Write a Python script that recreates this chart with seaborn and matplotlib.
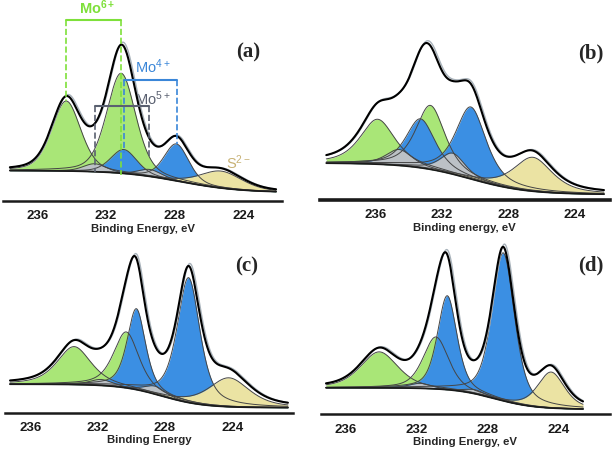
import numpy as np
import matplotlib
matplotlib.use('Agg')
import matplotlib.pyplot as plt
import seaborn as sns

# component order used in every panel
kinds = ['green', 'green', 'blue', 'blue', 'gray', 'gray', 'yellow']
ticks = [236, 232, 228, 224]

# (a)
a_centers = [234.32, 231.12, 230.97, 227.90, 232.66, 229.45, 225.30]
a_heights = [70, 100, 24, 37, 8, 7, 17]
a_fwhm = [2.0, 2.0, 1.8, 1.7, 1.6, 1.6, 2.9]
a_eta = 0.35
a_bg = [30.5, 8.5, 227.7, 3.5]      # high, low, step centre, step width
a_span = [237.6, 222.1]

# (b)
b_centers = [235.90, 232.70, 233.30, 230.25, 234.60, 231.35, 226.50]
b_heights = [45, 64, 49, 72, 16, 21, 34]
b_fwhm = [2.5, 2.1, 2.1, 2.2, 1.9, 1.8, 2.8]
b_eta = 0.65
b_bg = [37.0, 5.5, 230.3, 3.5]
b_span = [239.0, 222.2]

# (c)
c_centers = [233.40, 230.30, 229.70, 226.60, 231.80, 228.60, 224.20]
c_heights = [38, 56, 81, 125, 6, 8, 29]
c_fwhm = [2.4, 1.8, 1.3, 1.6, 1.6, 1.5, 2.9]
c_eta = 0.6
c_bg = [28.5, 5.0, 228.2, 2.5]
c_span = [237.2, 220.7]

# (d)
d_centers = [234.10, 230.90, 230.26, 227.10, 231.80, 228.70, 224.40]
d_heights = [36, 52, 94, 148, 5, 4, 36]
d_fwhm = [2.5, 1.7, 1.3, 1.5, 1.5, 1.4, 1.8]
d_eta = 0.5
d_bg = [26.5, 5.0, 227.6, 2.3]
d_span = [237.1, 222.6]

fill_colors = {'green': '#a9e677', 'blue': '#3b8fe3', 'gray': '#bcc1c6', 'yellow': '#ebe3a3'}
draw_order = ['green', 'blue', 'gray', 'yellow']

sns.set_style('white')
plt.rcParams['font.family'] = ['Liberation Sans', 'DejaVu Sans']
plt.rcParams['mathtext.default'] = 'regular'


def peak(x, c, h, w, eta):
    r = ((x - c) / w) ** 2
    return h * (eta / (1 + 4 * r) + (1 - eta) * np.exp(-4 * np.log(2) * r))


def draw_panel(ax, centers, heights, fwhm, eta, bg_par, span, xlim, ylim, xlabel, tag, tag_pos,
               spine_w=1.8):
    x = np.linspace(span[0], span[1], 800)
    hi, lo, x0, w = bg_par
    bg = lo + (hi - lo) * 0.5 * (1 + np.tanh((x - x0) / w))
    comps = [peak(x, c, h, f, eta) for c, h, f in zip(centers, heights, fwhm)]
    env = bg + np.sum(comps, axis=0)
    # measured trace, mostly hidden under the fit
    raw = bg + np.sum([peak(x + 0.08, c, h * 1.02, f, eta)
                       for c, h, f in zip(centers, heights, fwhm)], axis=0)

    for kind in draw_order:
        for comp, k in zip(comps, kinds):
            if k == kind:
                ax.fill_between(x, bg, bg + comp, color=fill_colors[kind], lw=0, zorder=2)
    for comp in comps:
        ax.plot(x, bg + comp, color='#454545', lw=0.7, zorder=3)
    sns.lineplot(x=x, y=bg, ax=ax, color='#1a1a1a', lw=1.2, zorder=3)
    sns.lineplot(x=x, y=raw, ax=ax, color='#a8b2ba', lw=1.0, zorder=4)
    sns.lineplot(x=x, y=env, ax=ax, color='black', lw=1.5, zorder=5)

    ax.set_xlim(xlim)
    ax.set_ylim(ylim)
    ax.set_xticks(ticks)
    ax.set_yticks([])
    for s in ['left', 'right', 'top']:
        ax.spines[s].set_visible(False)
    ax.spines['bottom'].set_linewidth(spine_w)
    ax.spines['bottom'].set_color('#1a1a1a')
    ax.tick_params(axis='x', direction='inout', length=4, width=1, pad=4,
                   labelsize=9.5, colors='#1a1a1a')
    for t in ax.get_xticklabels():
        t.set_fontweight('bold')
    ax.set_xlabel(xlabel, fontsize=8.2, fontweight='bold', labelpad=1)
    ax.text(tag_pos[0], tag_pos[1], tag, transform=ax.transAxes, fontsize=15,
            fontweight='bold', family='Liberation Serif', ha='center', va='center')
    ax.patch.set_alpha(0)


fig = plt.figure(figsize=(6.16, 4.52), dpi=100)
ax_a = fig.add_axes([0.0049, 0.553, 0.453, 0.447])
ax_b = fig.add_axes([0.519, 0.5553, 0.4708, 0.4447])
ax_c = fig.add_axes([0.0081, 0.0847, 0.4675, 0.393])
ax_d = fig.add_axes([0.5206, 0.0812, 0.469, 0.3967])

draw_panel(ax_a, a_centers, a_heights, a_fwhm, a_eta, a_bg, a_span, (238.0, 221.75), (0, 202),
           'Binding Energy, eV', '(a)', (0.878, 0.738))
draw_panel(ax_b, b_centers, b_heights, b_fwhm, b_eta, b_bg, b_span, (239.4, 221.85), (0, 201),
           'Binding energy, eV', '(b)', (0.936, 0.736), spine_w=2.6)
draw_panel(ax_c, c_centers, c_heights, c_fwhm, c_eta, c_bg, c_span, (237.5, 220.4), (0, 177.7),
           'Binding Energy', '(c)', (0.839, 0.831))
draw_panel(ax_d, d_centers, d_heights, d_fwhm, d_eta, d_bg, d_span, (237.4, 221.1), (0, 179.3),
           'Binding Energy, eV', '(d)', (0.935, 0.833))

# oxidation-state brackets on (a)
green_txt, blue_txt, gray_txt, tan_txt = '#7ee03a', '#3a86d8', '#5a6070', '#c8b275'
ax_a.plot([234.32, 231.12], [181, 181], color=green_txt, lw=1.5, zorder=6)
ax_a.plot([234.32, 234.32], [181, 100], color=green_txt, lw=1.2, ls='--', zorder=6)
ax_a.plot([231.12, 231.12], [181, 26], color=green_txt, lw=1.2, ls='--', zorder=6)
ax_a.text(232.5, 194, 'Mo$^{6+}$', color=green_txt, fontsize=10.5, ha='center', va='center', fontweight='bold')

ax_a.plot([230.95, 227.87], [121.3, 121.3], color=blue_txt, lw=1.5, zorder=6)
ax_a.plot([230.95, 230.95], [121.3, 48], color=blue_txt, lw=1.2, ls='--', zorder=6)
ax_a.plot([227.87, 227.87], [121.3, 57], color=blue_txt, lw=1.2, ls='--', zorder=6)
ax_a.text(229.25, 135, 'Mo$^{4+}$', color=blue_txt, fontsize=10.5, ha='center', va='center')

ax_a.plot([232.66, 229.48], [95, 95], color=gray_txt, lw=1.5, zorder=6)
ax_a.plot([232.66, 232.66], [95, 29], color=gray_txt, lw=1.2, ls='--', zorder=6)
ax_a.plot([229.48, 229.48], [95, 45], color=gray_txt, lw=1.2, ls='--', zorder=6)
ax_a.text(229.25, 103, 'Mo$^{5+}$', color=gray_txt, fontsize=10.5, ha='center', va='center')

ax_a.text(224.3, 39, 'S$^{2-}$', color=tan_txt, fontsize=10.5, ha='center', va='center')

fig.savefig('out.png', dpi=100)
